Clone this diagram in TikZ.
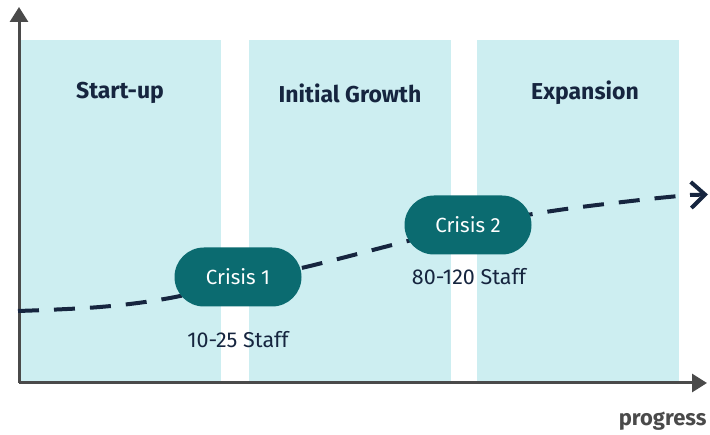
\documentclass[tikz,border=0pt]{standalone}
\usepackage{fontspec}
\setmainfont{Fira Sans}
\usetikzlibrary{arrows.meta}
\definecolor{band}{HTML}{CDEEF1}
\definecolor{axisgray}{HTML}{4A4A4A}
\definecolor{navy}{HTML}{16253F}
\definecolor{teal}{HTML}{0B6B70}
\tikzset{
  phase/.style={fill=band, draw=none},
  phasetitle/.style={font=\fontsize{23}{26}\selectfont\bfseries, text=navy},
  crisis/.style={fill=teal, rounded corners=29.5pt, minimum width=127pt, minimum height=59pt,
                 text=white, font=\fontsize{20.5}{24}\selectfont, inner sep=0pt},
  staff/.style={font=\fontsize{21.5}{25}\selectfont, text=navy},
  axisline/.style={draw=axisgray, line width=3pt, -{Triangle[length=15pt,width=18pt]}},
  trend/.style={draw=navy, line width=4pt, dash pattern=on 21pt off 15pt},
}
\begin{document}
\begin{tikzpicture}[x=1pt,y=-1pt]
  \useasboundingbox (0,0) rectangle (710,435);
  % phase bands
  \fill[phase] (21,40) rectangle (221,383);
  \fill[phase] (249,40) rectangle (451,383);
  \fill[phase] (477,40) rectangle (679,383);
  \node[phasetitle] (t1) at (120,93) {Start-up};
  \node[phasetitle] (t2) at (350,93) {Initial Growth};
  \node[phasetitle] (t3) at (585,93) {Expansion};
  % axes
  \coordinate (origin) at (19,383);
  \coordinate (ytop) at (19,7);
  \coordinate (xend) at (707,383);
  \draw[axisline] (origin) -- (ytop);
  \draw[axisline] (origin) -- (xend);
  \node[anchor=east, font=\fontsize{22}{25}\selectfont\bfseries, text=axisgray] (prog) at (710,421) {progress};
  % trend line
  \draw[trend] plot[smooth, tension=0.6] coordinates
    {(18,311) (100,307) (170,298) (238,282) (310,266) (400,243) (468,226) (552,211) (640,200) (690,195)};
  \draw[navy, line width=4pt, -{Straight Barb[length=14pt,width=26pt]}] (690,195) -- (708,194.5);
  % crisis points
  \node[crisis] (c1) at (238,277) {Crisis 1};
  \node[crisis] (c2) at (468,225) {Crisis 2};
  \node[staff] (s1) at (238,340) {10-25 Staff};
  \node[staff] (s2) at (469,277) {80-120 Staff};
\end{tikzpicture}
\end{document}
